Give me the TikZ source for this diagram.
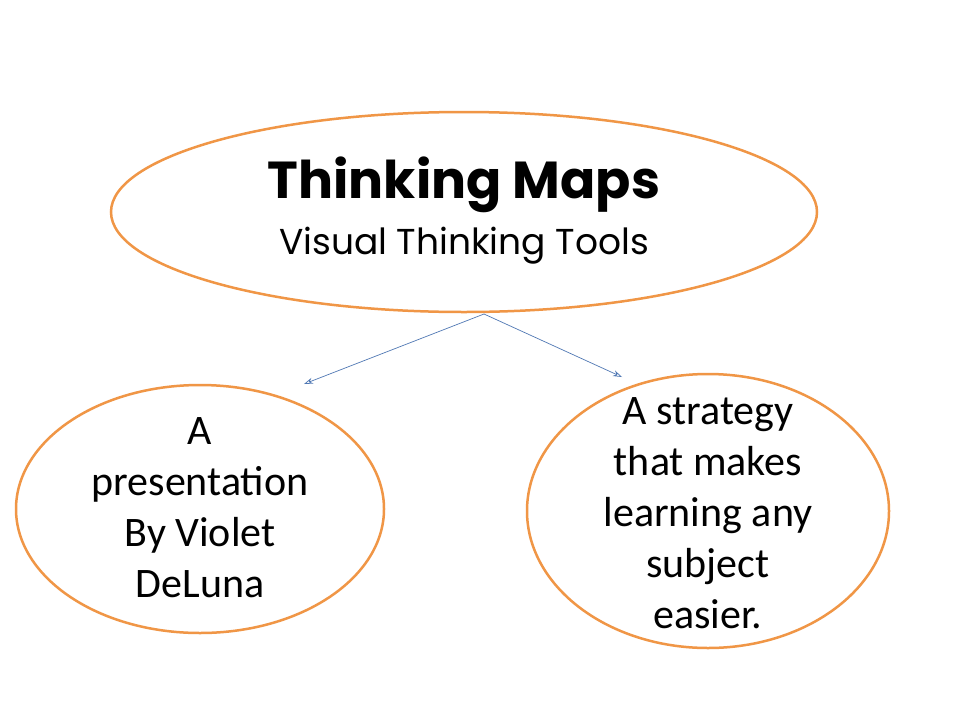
\documentclass[tikz,border=0pt]{standalone}
\usepackage{fontspec}
\setmainfont{Carlito}
\newfontfamily\titlefont{Poppins}
\usetikzlibrary{arrows.meta}
\definecolor{orng}{RGB}{240,150,70}
\definecolor{lnk}{RGB}{80,120,180}
\tikzset{bubble/.style={draw=orng,line width=2.5pt},
 link/.style={draw=lnk,line width=0.7pt,-{Stealth[length=9pt,width=6pt,open]}},
 body/.style={align=center,font=\fontsize{42}{51}\selectfont}}
\begin{document}
\begin{tikzpicture}[x=1pt,y=-1pt]
\useasboundingbox[fill=white] (0,0) rectangle (960,720);
\draw[bubble] (464,212) ellipse [x radius=353,y radius=100];
\draw[bubble] (200,509) ellipse [x radius=184,y radius=124];
\draw[bubble] (708,511) ellipse [x radius=181,y radius=137];
\node[align=center,font=\titlefont\bfseries\fontsize{52}{52}\selectfont] (t) at (464,185) {Thinking Maps};
\node[align=center,font=\titlefont\fontsize{36}{36}\selectfont] (s) at (464,246) {Visual Thinking Tools};
\coordinate (top) at (484,314);
\coordinate (la) at (304,384);
\coordinate (ra) at (622,377);
\draw[link] (top) -- (la);
\draw[link] (top) -- (ra);
\node[body] (l) at (200,508) {A\\presentation\\By Violet\\DeLuna};
\node[body] (r) at (708,513) {A strategy\\that makes\\learning any\\subject\\easier.};
\end{tikzpicture}
\end{document}
